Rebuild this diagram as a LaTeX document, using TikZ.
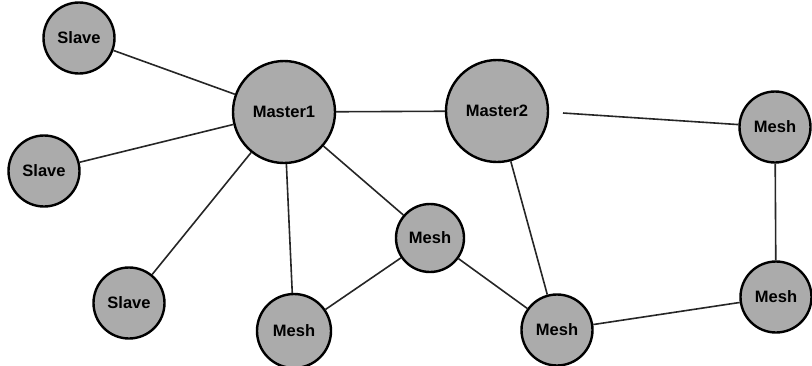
\documentclass[tikz,border=0pt]{standalone}
\usepackage{fontspec}
\setmainfont{Liberation Sans}
\begin{document}
\begin{tikzpicture}[x=1pt,y=-1pt,
  netnode/.style={circle,draw=black,line width=2.4pt,fill=black!33,inner sep=0pt,
    font=\fontsize{16.5}{18}\selectfont\bfseries},
  big/.style={netnode,minimum size=102pt},
  small/.style={netnode,minimum size=71pt},
  link/.style={line width=1.6pt,draw=black!85}]
\useasboundingbox (0,0) rectangle (812,365);
\node[small] (s1) at (79,38) {Slave};
\node[small] (s2) at (44,171) {Slave};
\node[small] (s3) at (129,303) {Slave};
\node[big] (m1) at (284,112) {Master1};
\node[big] (m2) at (497,111) {Master2};
\node[small,minimum size=68pt] (mid) at (430,238) {Mesh};
\node[small,minimum size=74pt] (bl) at (294,331) {Mesh};
\node[small] (bm) at (557,330) {Mesh};
\node[small] (tr) at (775,127) {Mesh};
\node[small] (rb) at (776,297) {Mesh};
\coordinate (free) at (563,113);
\draw[link] (s1) -- (m1);
\draw[link] (s2) -- (m1);
\draw[link] (s3) -- (m1);
\draw[link] (m1) -- (m2);
\draw[link] (m1) -- (bl);
\draw[link] (m1) -- (mid);
\draw[link] (bl) -- (mid);
\draw[link] (mid) -- (bm);
\draw[link] (m2) -- (bm);
\draw[link] (free) -- (tr);
\draw[link] (tr) -- (rb);
\draw[link] (bm) -- (rb);
\end{tikzpicture}
\end{document}
